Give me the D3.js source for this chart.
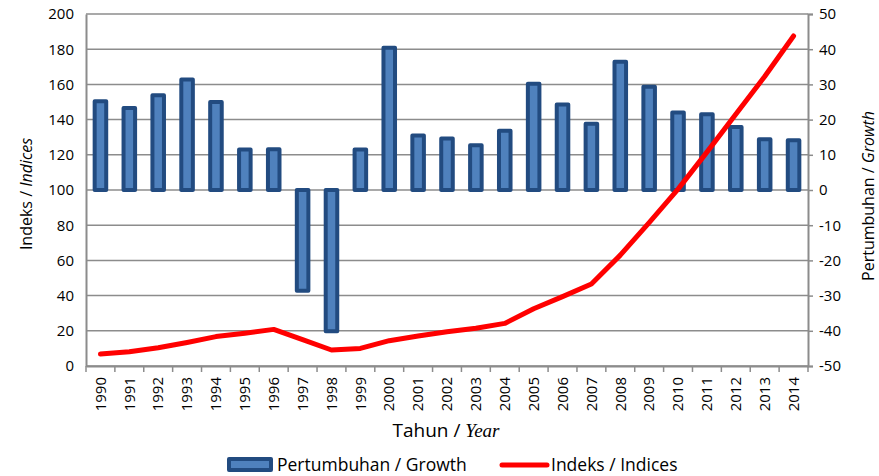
<!DOCTYPE html>
<html>
<head>
  <meta charset="utf-8">
  <title>Indeks dan Pertumbuhan</title>
  <script src="https://d3js.org/d3.v7.min.js"></script>
  <style>
    body { margin: 0; background: #fff; }
    text { font-family: "Open Sans", sans-serif; fill: #000; }
  </style>
</head>
<body>
  <svg id="chart"></svg>
  <script>
    // Data
    const years = ["1990","1991","1992","1993","1994","1995","1996","1997","1998","1999",
                   "2000","2001","2002","2003","2004","2005","2006","2007","2008","2009",
                   "2010","2011","2012","2013","2014"];
    // Pertumbuhan / Growth (right axis, %)
    const growth = [25.2, 23.3, 26.9, 31.4, 25.0, 11.5, 11.6, -28.6, -40.1, 11.5,
                    40.4, 15.5, 14.6, 12.7, 16.8, 30.2, 24.3, 18.8, 36.4, 29.3,
                    22.0, 21.5, 17.9, 14.4, 14.1];
    // Indeks / Indices (left axis)
    const indices = [6.8, 8.1, 10.4, 13.4, 16.7, 18.6, 20.8, 15.0, 9.1, 10.0,
                     14.4, 17.0, 19.5, 21.4, 24.2, 32.5, 39.4, 46.6, 63.0, 81.5,
                     100.5, 121.5, 143.0, 164.5, 187.5];
    const leftTicks = d3.range(0, 201, 20);
    const rightTicks = d3.range(-50, 51, 10);

    const W = 879, H = 476;
    const margin = {top: 14, right: 71, bottom: 110, left: 86};
    const width = W - margin.left - margin.right,
          height = H - margin.top - margin.bottom;

    const svg = d3.select("#chart")
      .attr("width", W)
      .attr("height", H);

    const g = svg.append("g")
      .attr("transform", `translate(${margin.left},${margin.top})`);

    // Scales
    const x = d3.scaleBand().domain(years).range([0, width]);
    const yLeft = d3.scaleLinear().domain([0, 200]).range([height, 0]);
    const yRight = d3.scaleLinear().domain([-50, 50]).range([height, 0]);

    const gridColor = "#8c8c8c";

    // Gridlines
    g.append("g")
      .selectAll("line")
      .data(leftTicks)
      .enter().append("line")
      .attr("x1", 0)
      .attr("x2", width)
      .attr("y1", d => yLeft(d))
      .attr("y2", d => yLeft(d))
      .style("stroke", gridColor)
      .style("stroke-width", 1.5);

    // Left axis
    const leftAxis = g.append("g")
      .call(d3.axisLeft(yLeft).tickValues(leftTicks).tickSize(0).tickPadding(12));
    leftAxis.select(".domain").style("stroke", gridColor).style("stroke-width", 2);
    leftAxis.selectAll("text").style("font-size", "15px");

    // Right axis (plain hyphen for negatives, as in the original)
    const rightAxis = g.append("g")
      .attr("transform", `translate(${width},0)`)
      .call(d3.axisRight(yRight).tickValues(rightTicks).tickSize(5).tickPadding(6)
        .tickFormat(d => String(d)));
    rightAxis.select(".domain").style("stroke", gridColor).style("stroke-width", 2);
    rightAxis.selectAll(".tick line").style("stroke", gridColor).style("stroke-width", 1.5);
    rightAxis.selectAll("text").style("font-size", "15px");

    // Bottom axis: ticks between categories
    const xAxis = g.append("g")
      .attr("transform", `translate(0,${height})`)
      .call(d3.axisBottom(x).tickSize(0).tickPadding(8));
    xAxis.select(".domain").style("stroke", gridColor).style("stroke-width", 2);
    xAxis.selectAll("text")
      .style("font-size", "15px")
      .attr("transform", "rotate(-90)")
      .attr("text-anchor", "end")
      .attr("x", -11)
      .attr("y", 0)
      .attr("dy", "0.35em");

    g.append("g")
      .selectAll("line")
      .data(d3.range(years.length + 1))
      .enter().append("line")
      .attr("x1", i => i * x.step())
      .attr("x2", i => i * x.step())
      .attr("y1", height)
      .attr("y2", height + 6)
      .style("stroke", gridColor)
      .style("stroke-width", 1.5);

    // Growth bars (right axis)
    const barW = x.bandwidth() * 0.4;
    g.append("g")
      .selectAll("rect")
      .data(growth)
      .enter().append("rect")
      .attr("x", (d, i) => x(years[i]) + (x.bandwidth() - barW) / 2)
      .attr("y", d => yRight(Math.max(0, d)))
      .attr("width", barW)
      .attr("height", d => Math.abs(yRight(d) - yRight(0)))
      .style("fill", "#4f81bd")
      .style("stroke", "#224b80")
      .style("stroke-width", 4)
      .style("stroke-linejoin", "round");

    // Indices line (left axis)
    const line = d3.line()
      .x((d, i) => x(years[i]) + x.bandwidth() / 2)
      .y(d => yLeft(d));

    g.append("path")
      .datum(indices)
      .attr("d", line)
      .style("fill", "none")
      .style("stroke", "#ff0000")
      .style("stroke-width", 5)
      .style("stroke-linejoin", "round")
      .style("stroke-linecap", "round");

    // Axis titles
    const leftTitle = svg.append("text")
      .attr("transform", `translate(32,${margin.top + height / 2 + 4}) rotate(-90)`)
      .attr("text-anchor", "middle")
      .style("font-size", "16px");
    leftTitle.append("tspan").text("Indeks / ");
    leftTitle.append("tspan").style("font-style", "italic").text("Indices");

    const rightTitle = svg.append("text")
      .attr("transform", `translate(874,${margin.top + height / 2 + 6}) rotate(-90)`)
      .attr("text-anchor", "middle")
      .style("font-size", "16px");
    rightTitle.append("tspan").text("Pertumbuhan / ");
    rightTitle.append("tspan").style("font-style", "italic").text("Growth");

    const xTitle = svg.append("text")
      .attr("x", 446)
      .attr("y", 437)
      .attr("text-anchor", "middle")
      .style("font-size", "19px");
    xTitle.append("tspan").text("Tahun / ");
    xTitle.append("tspan")
      .style("font-family", "'Liberation Serif', serif")
      .style("font-style", "italic")
      .text("Year");

    // Legend
    const legend = svg.append("g");
    legend.append("rect")
      .attr("x", 229)
      .attr("y", 459)
      .attr("width", 42)
      .attr("height", 11)
      .style("fill", "#4f81bd")
      .style("stroke", "#224b80")
      .style("stroke-width", 4)
      .style("stroke-linejoin", "round");
    legend.append("text")
      .attr("x", 277)
      .attr("y", 465)
      .attr("dy", "0.35em")
      .style("font-size", "17.5px")
      .text("Pertumbuhan / Growth");
    legend.append("line")
      .attr("x1", 502)
      .attr("x2", 547)
      .attr("y1", 465)
      .attr("y2", 465)
      .style("stroke", "#ff0000")
      .style("stroke-width", 5)
      .style("stroke-linecap", "round");
    legend.append("text")
      .attr("x", 551)
      .attr("y", 465)
      .attr("dy", "0.35em")
      .style("font-size", "17.5px")
      .text("Indeks / Indices");
  </script>
</body>
</html>
